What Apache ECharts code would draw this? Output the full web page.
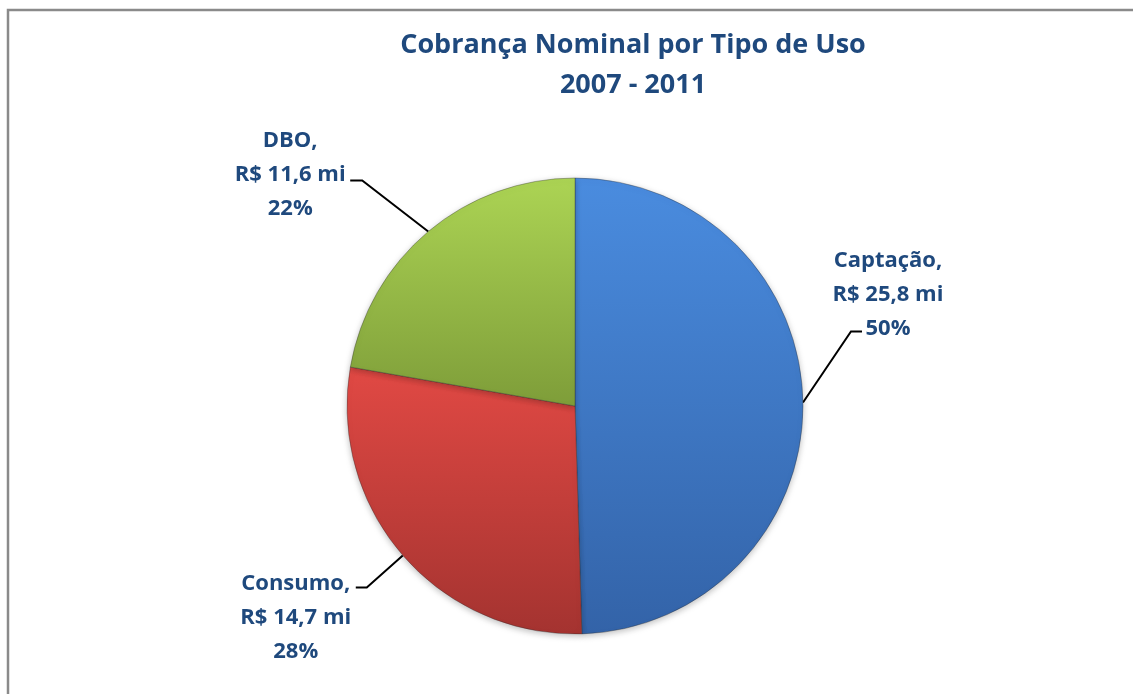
<!DOCTYPE html>
<html>
<head>
<meta charset="utf-8">
<script src="https://cdn.jsdelivr.net/npm/echarts@6/dist/echarts.min.js"></script>
<style>
  html, body { margin: 0; padding: 0; background: #fff; }
  #chart { width: 1133px; height: 694px; }
</style>
</head>
<body>
<div id="chart"></div>
<script>
// dados
const categorias = ["Captação", "Consumo", "DBO"];
const valores = [25.8, 14.7, 11.6]; // R$ milhões
const titulo = "Cobrança Nominal por Tipo de Uso\n2007 - 2011";

// cores (topo, base) de cada fatia
const cores = [
  ["#4A8CDF", "#3363A8"],
  ["#E14944", "#A43330"],
  ["#ACD454", "#7E9D39"]
];

// posição dos rótulos em relação ao ponto de saída da linha guia
const rotuloDesloc = [
  { dx: 85, dy: -108, elbow: [48, -71], fim: [59, -71] },
  { dx: -107, dy: 62, elbow: [-36, 32], fim: [-47, 32] },
  { dx: -138, dy: -57, elbow: [-66, -51], fim: [-78, -51] }
];

const dados = categorias.map((c, i) => ({
  name: c,
  value: valores[i],
  itemStyle: {
    color: new echarts.graphic.LinearGradient(0, 0, 0, 1, [
      { offset: 0, color: cores[i][0] },
      { offset: 1, color: cores[i][1] }
    ])
  }
}));

const myChart = echarts.init(document.getElementById("chart"));
myChart.setOption({
  backgroundColor: "#fff",
  animation: false,
  title: {
    text: titulo,
    left: 628,
    top: 20,
    textAlign: "center",
    textStyle: {
      fontFamily: "Open Sans",
      fontWeight: "bold",
      fontSize: 27,
      lineHeight: 40,
      color: "#1F497D"
    }
  },
  graphic: [
    {
      type: "rect",
      shape: { x: 8, y: 10, width: 1400, height: 1000 },
      style: { fill: "none", stroke: "#8A8A8A", lineWidth: 2.5 },
      silent: true
    }
  ],
  series: [
    {
      type: "pie",
      center: [575, 406],
      radius: 228,
      startAngle: 90,
      clockwise: true,
      data: dados,
      itemStyle: {
        borderColor: "rgba(40,40,40,0.35)",
        borderWidth: 1,
        shadowBlur: 6,
        shadowColor: "rgba(0,0,0,0.25)",
        shadowOffsetY: 2
      },
      label: {
        show: true,
        position: "outside",
        fontFamily: "Open Sans",
        fontWeight: "bold",
        fontSize: 22,
        lineHeight: 34,
        color: "#1F497D",
        align: "center",
        formatter: function (p) {
          return p.name + ",\nR$ " + String(p.value).replace(".", ",") + " mi\n" + Math.round(p.percent) + "%";
        }
      },
      labelLine: {
        show: true,
        length: 30,
        length2: 10,
        lineStyle: { color: "#000", width: 2 }
      },
      labelLayout: function (params) {
        const d = rotuloDesloc[params.dataIndex];
        const p0 = params.labelLinePoints[0];
        return {
          x: p0[0] + d.dx,
          y: p0[1] + d.dy,
          align: "center",
          verticalAlign: "middle",
          labelLinePoints: [
            p0,
            [p0[0] + d.elbow[0], p0[1] + d.elbow[1]],
            [p0[0] + d.fim[0], p0[1] + d.fim[1]]
          ]
        };
      }
    }
  ]
});
window.addEventListener("resize", () => {
  myChart.resize();
});
</script>
</body>
</html>
